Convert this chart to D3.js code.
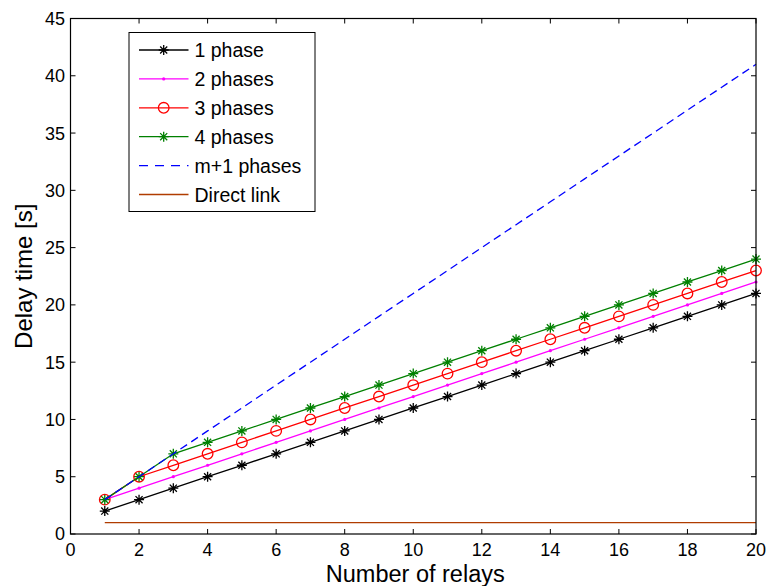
<!DOCTYPE html>
<html>
<head>
<meta charset="utf-8">
<script src="https://cdn.jsdelivr.net/npm/d3@7"></script>
<style>
  html, body { margin: 0; padding: 0; background: #fff; }
  text { font-family: "Liberation Sans", Arial, Helvetica, sans-serif; }
</style>
</head>
<body>
<svg id="chart" width="767" height="586"></svg>
<script>
// ---- data ----
const relays = [1,2,3,4,5,6,7,8,9,10,11,12,13,14,15,16,17,18,19,20];
const phase1 = [2,3,4,5,6,7,8,9,10,11,12,13,14,15,16,17,18,19,20,21];
const phase2 = [3,4,5,6,7,8,9,10,11,12,13,14,15,16,17,18,19,20,21,22];
const phase3 = [3,5,6,7,8,9,10,11,12,13,14,15,16,17,18,19,20,21,22,23];
const phase4 = [3,5,7,8,9,10,11,12,13,14,15,16,17,18,19,20,21,22,23,24];
const phaseM1 = [3,5,7,9,11,13,15,17,19,21,23,25,27,29,31,33,35,37,39,41];
const directLink = [1,1,1,1,1,1,1,1,1,1,1,1,1,1,1,1,1,1,1,1];
const xTicks = [0,2,4,6,8,10,12,14,16,18,20];
const yTicks = [0,5,10,15,20,25,30,35,40,45];
const seriesNames = ["1 phase","2 phases","3 phases","4 phases","m+1 phases","Direct link"];

// ---- layout ----
const svg = d3.select("#chart");
const L = 70.5, R = 756, T = 18.5, B = 534;
const x = d3.scaleLinear().domain([0,20]).range([L,R]);
const y = d3.scaleLinear().domain([0,45]).range([B,T]);

const series = [
  {name: seriesNames[0], values: phase1, color: "#000000", marker: "star", dash: null},
  {name: seriesNames[1], values: phase2, color: "#ff00ff", marker: "dot", dash: null},
  {name: seriesNames[2], values: phase3, color: "#ff0000", marker: "circle", dash: null},
  {name: seriesNames[3], values: phase4, color: "#008000", marker: "star", dash: null},
  {name: seriesNames[4], values: phaseM1, color: "#0000ff", marker: null, dash: "8,5"},
  {name: seriesNames[5], values: directLink, color: "#b03c00", marker: null, dash: null}
];

function starPath(cx, cy, s) {
  const d = s * 0.7071;
  return `M${cx-s},${cy}L${cx+s},${cy}M${cx},${cy-s}L${cx},${cy+s}` +
         `M${cx-d},${cy-d}L${cx+d},${cy+d}M${cx-d},${cy+d}L${cx+d},${cy-d}`;
}
function drawMarker(g, type, cx, cy, color) {
  if (type === "star") {
    g.append("path").attr("d", starPath(cx, cy, 5)).attr("stroke", color)
      .attr("stroke-width", 1.3).attr("fill", "none");
  } else if (type === "circle") {
    g.append("circle").attr("cx", cx).attr("cy", cy).attr("r", 5.3)
      .attr("stroke", color).attr("stroke-width", 1.3).attr("fill", "none");
  } else if (type === "dot") {
    g.append("circle").attr("cx", cx).attr("cy", cy).attr("r", 1.6)
      .attr("fill", color);
  }
}

// axes background
svg.append("rect").attr("x", L).attr("y", T).attr("width", R-L).attr("height", B-T)
  .attr("fill", "#fff");

// series
const line = d3.line().x((d,i) => x(relays[i])).y(d => y(d));
const plot = svg.append("g");
series.forEach(s => {
  plot.append("path").datum(s.values).attr("d", line)
    .attr("fill", "none").attr("stroke", s.color).attr("stroke-width", 1.3)
    .attr("stroke-dasharray", s.dash);
  if (s.marker) {
    const mg = plot.append("g");
    s.values.forEach((v,i) => drawMarker(mg, s.marker, x(relays[i]), y(v), s.color));
  }
});

// ticks (inward, all four sides)
const tickLen = 5;
const axG = svg.append("g").attr("stroke", "#000").attr("stroke-width", 1);
xTicks.forEach(t => {
  axG.append("line").attr("x1", x(t)).attr("x2", x(t)).attr("y1", B).attr("y2", B - tickLen);
  axG.append("line").attr("x1", x(t)).attr("x2", x(t)).attr("y1", T).attr("y2", T + tickLen);
});
yTicks.forEach(t => {
  axG.append("line").attr("x1", L).attr("x2", L + tickLen).attr("y1", y(t)).attr("y2", y(t));
  axG.append("line").attr("x1", R).attr("x2", R - tickLen).attr("y1", y(t)).attr("y2", y(t));
});
svg.append("rect").attr("x", L).attr("y", T).attr("width", R-L).attr("height", B-T)
  .attr("fill", "none").attr("stroke", "#000").attr("stroke-width", 1.2);

// tick labels
const tl = svg.append("g").attr("font-size", 18).attr("fill", "#000");
xTicks.forEach(t => {
  tl.append("text").attr("x", x(t)).attr("y", 555.5).attr("text-anchor", "middle").text(t);
});
yTicks.forEach(t => {
  tl.append("text").attr("x", 65).attr("y", y(t)).attr("dy", "0.36em")
    .attr("text-anchor", "end").text(t);
});

// axis labels
svg.append("text").attr("x", (L+R)/2 + 2).attr("y", 581.5).attr("text-anchor", "middle")
  .attr("font-size", 23.5).text("Number of relays");
svg.append("text").attr("transform", `translate(32,${(T+B)/2}) rotate(-90)`)
  .attr("text-anchor", "middle").attr("font-size", 24).text("Delay time [s]");

// legend
const lg = svg.append("g");
lg.append("rect").attr("x", 129).attr("y", 32.5).attr("width", 186).attr("height", 179)
  .attr("fill", "#fff").attr("stroke", "#000").attr("stroke-width", 1);
series.forEach((s, i) => {
  const cy = 50 + i * 28.9;
  lg.append("line").attr("x1", 139).attr("x2", 188.5).attr("y1", cy).attr("y2", cy)
    .attr("stroke", s.color).attr("stroke-width", 1.3)
    .attr("stroke-dasharray", s.dash ? "9,7" : null);
  if (s.marker) drawMarker(lg, s.marker, 163.7, cy, s.color);
  lg.append("text").attr("x", 194.5).attr("y", cy).attr("dy", "0.36em")
    .attr("font-size", 19.5).text(s.name);
});
</script>
</body>
</html>
